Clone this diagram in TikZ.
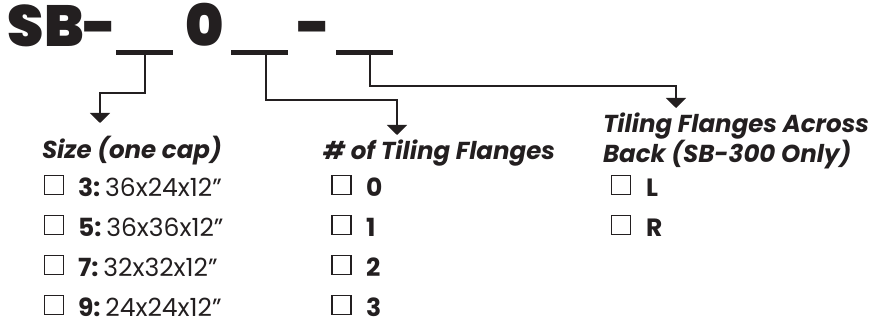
\documentclass[tikz,border=0pt]{standalone}
\usepackage{fontspec}
\setmainfont{Poppins}
\newfontfamily\titlefont{Poppins Black}
\usetikzlibrary{arrows.meta}
\definecolor{ink}{HTML}{231F20}
\begin{document}
\begin{tikzpicture}[x=1pt,y=-1pt,
  every node/.style={inner sep=0pt,outer sep=0pt,text=ink},
  titletxt/.style={font=\titlefont\fontsize{58}{58}\selectfont,anchor=base west},
  blank/.style={fill=ink,minimum width=57pt,minimum height=5pt},
  conn/.style={draw=ink,line width=2pt,-{Triangle[width=20pt,length=10pt]}},
  head/.style={font=\bfseries\itshape\fontsize{24.5}{24.5}\selectfont,anchor=base west},
  item/.style={font=\fontsize{25}{25}\selectfont,anchor=base west},
  cbox/.style={draw=ink,line width=1.3pt,minimum width=19pt,minimum height=19pt}]
\useasboundingbox (0,0) rectangle (874,323);
% title
\node[titletxt] (sb) at (8,47) {SB-};
\node[blank] (b1) at (144.5,53) {};
\node[titletxt] (zero) at (185,47) {0};
\node[blank] (b2) at (259,53) {};
\node[titletxt] (dash) at (297,47) {-};
\node[blank] (b3) at (364,53) {};
% arrow tips
\coordinate (t1) at (100,123);
\coordinate (t2) at (397,135);
\coordinate (t3) at (676,108);
\draw[conn] (b1.south) |- (100,93) -- (t1);
\draw[conn] ([xshift=7pt]b2.south) |- (397,100.5) -- (t2);
\draw[conn] ([xshift=6pt]b3.south) |- (676,86) -- (t3);
% column 1
\node[head] (h1) at (42,159) {Size (one cap)};
\foreach \n/\d/\s [count=\i from 0] in {3/36x24x12”/a,5/36x36x12”/b,7/32x32x12”/c,9/24x24x12”/d}{
  \node[cbox] (c1\s) at (54,185+40*\i) {};
  \node[item] (l1\s) at (78,196+40*\i) {\textbf{\n:}\hspace{5pt}\d};
}
% column 2
\node[head] (h2) at (323,160) {\# of Tiling Flanges};
\foreach \n/\s [count=\i from 0] in {0/a,1/b,2/c,3/d}{
  \node[cbox] (c2\s) at (341.5,185+40*\i) {};
  \node[item] (l2\s) at (366,196+40*\i) {\textbf{\n}};
}
% column 3
\node[head] (h3a) at (603,133) {Tiling Flanges Across};
\node[head] (h3b) at (603,162) {Back (SB-300 Only)};
\foreach \n/\s [count=\i from 0] in {L/a,R/b}{
  \node[cbox] (c3\s) at (621,185+40*\i) {};
  \node[item] (l3\s) at (646,196+40*\i) {\textbf{\n}};
}
\end{tikzpicture}
\end{document}
